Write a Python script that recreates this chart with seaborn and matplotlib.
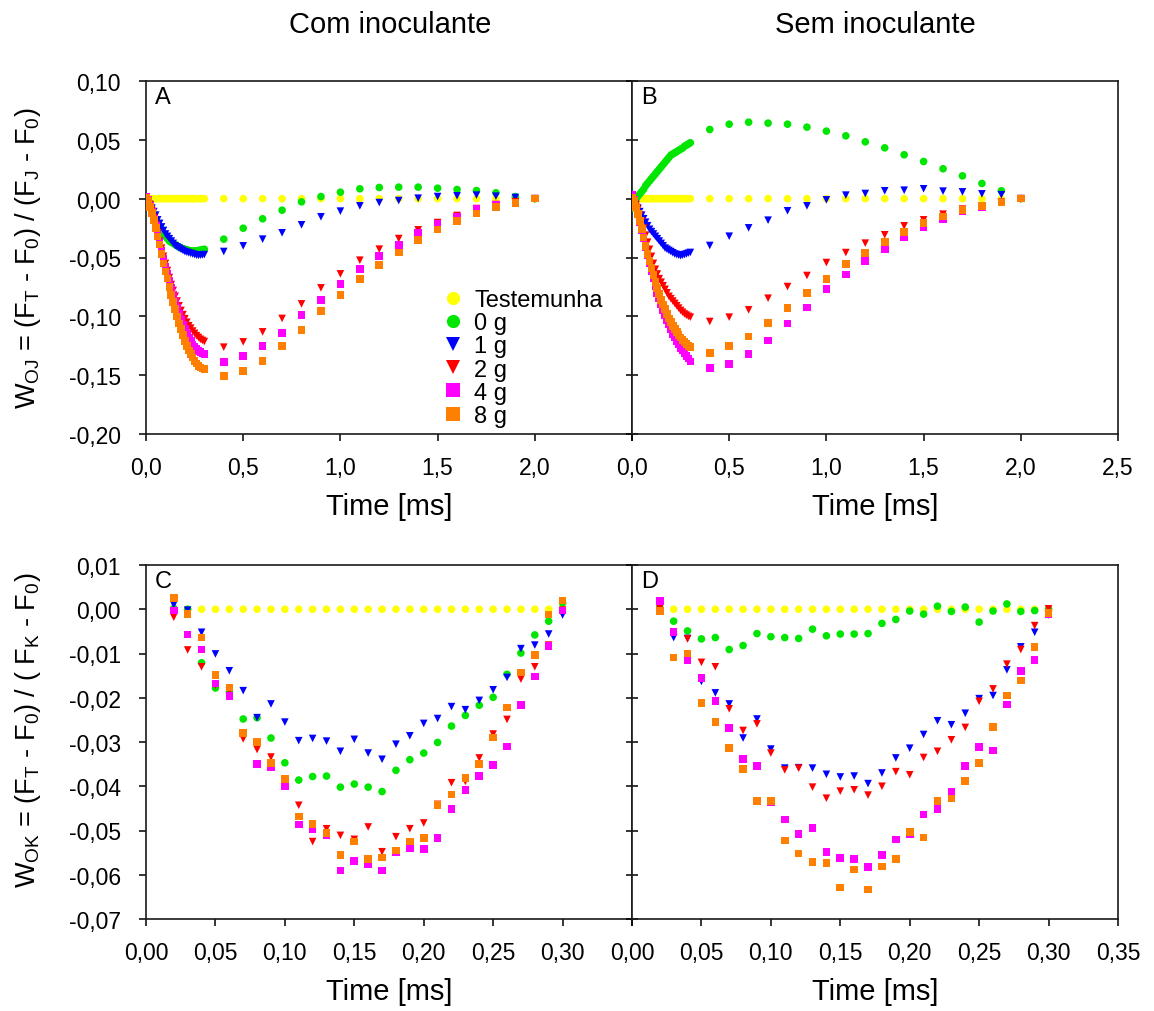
import matplotlib
matplotlib.use('Agg')
import matplotlib.pyplot as plt
from matplotlib.lines import Line2D
import pandas as pd
import seaborn as sns

treatments = ['Testemunha', '0 g', '1 g', '2 g', '4 g', '8 g']
colors = ['#ffff00', '#00e600', '#0000ff', '#ff0000', '#ff00ff', '#ff8000']
shapes = ['o', 'o', 'v', 'v', 's', 's']

# W_OJ time axis: dense part up to 0.3 ms, then every 0.1 ms up to 2 ms
time_oj = [0.00, 0.01, 0.02, 0.03, 0.04, 0.05, 0.06, 0.07, 0.08, 0.09, 0.10,
           0.11, 0.12, 0.13, 0.14, 0.15, 0.16, 0.17, 0.18, 0.19, 0.20,
           0.21, 0.22, 0.23, 0.24, 0.25, 0.26, 0.27, 0.28, 0.29, 0.30,
           0.4, 0.5, 0.6, 0.7, 0.8, 0.9, 1.0, 1.1, 1.2, 1.3, 1.4, 1.5,
           1.6, 1.7, 1.8, 1.9, 2.0]

# W_OK time axis
time_ok = [0.02, 0.03, 0.04, 0.05, 0.06, 0.07, 0.08, 0.09, 0.10,
           0.11, 0.12, 0.13, 0.14, 0.15, 0.16, 0.17, 0.18, 0.19, 0.20,
           0.21, 0.22, 0.23, 0.24, 0.25, 0.26, 0.27, 0.28, 0.29, 0.30]

# panel A - com inoculante, W_OJ
a_ctrl = [0.0] * len(time_oj)
a_0g = [-0.003, -0.001, -0.005, -0.009, -0.013, -0.017, -0.021, -0.024, -0.027, -0.030, -0.032,
        -0.034, -0.036, -0.037, -0.038, -0.039, -0.040, -0.041, -0.042, -0.0425, -0.043,
        -0.0435, -0.044, -0.0443, -0.0445, -0.0445, -0.0443, -0.044, -0.0437, -0.0433, -0.043,
        -0.0344, -0.0251, -0.0171, -0.0098, -0.0027, 0.0018, 0.0055, 0.0084, 0.0095, 0.0098,
        0.0098, 0.0089, 0.0078, 0.0069, 0.0050, 0.0018, 0.0]
a_1g = [0.000, -0.002, -0.005, -0.008, -0.011, -0.014, -0.018, -0.021, -0.024, -0.027, -0.030,
        -0.032, -0.034, -0.036, -0.038, -0.040, -0.041, -0.042, -0.043, -0.044, -0.045,
        -0.0455, -0.046, -0.0465, -0.047, -0.0475, -0.048, -0.0482, -0.048, -0.0478, -0.0475,
        -0.0449, -0.0401, -0.0344, -0.0290, -0.0222, -0.0154, -0.0106, -0.0061, -0.0033, -0.0016,
        0.0004, 0.0018, 0.0024, 0.0030, 0.0021, 0.0010, 0.0]
a_2g = [0.001, -0.001, -0.005, -0.010, -0.016, -0.022, -0.029, -0.036, -0.042, -0.049, -0.055,
        -0.061, -0.067, -0.073, -0.078, -0.083, -0.087, -0.091, -0.095, -0.0985, -0.102,
        -0.105, -0.108, -0.110, -0.1125, -0.1145, -0.1165, -0.118, -0.1195, -0.1205, -0.1214,
        -0.1262, -0.1217, -0.1132, -0.1018, -0.0894, -0.0758, -0.0639, -0.0523, -0.0429, -0.0339,
        -0.0265, -0.0203, -0.0143, -0.0084, -0.0050, -0.0027, 0.0]
a_4g = [0.002, -0.001, -0.006, -0.011, -0.017, -0.023, -0.030, -0.037, -0.044, -0.051, -0.058,
        -0.064, -0.070, -0.076, -0.082, -0.088, -0.093, -0.098, -0.103, -0.107, -0.111,
        -0.115, -0.118, -0.121, -0.124, -0.126, -0.128, -0.1295, -0.1305, -0.1315, -0.132,
        -0.1387, -0.1336, -0.1251, -0.1143, -0.0990, -0.0860, -0.0727, -0.0596, -0.0489, -0.0392,
        -0.0293, -0.0217, -0.0152, -0.0089, -0.0055, -0.0033, 0.0]
a_8g = [0.001, -0.002, -0.007, -0.012, -0.018, -0.025, -0.032, -0.039, -0.047, -0.055, -0.062,
        -0.068, -0.075, -0.082, -0.088, -0.094, -0.100, -0.106, -0.111, -0.116, -0.121,
        -0.125, -0.129, -0.132, -0.135, -0.138, -0.140, -0.142, -0.1435, -0.1445, -0.145,
        -0.1506, -0.1463, -0.1381, -0.1253, -0.1115, -0.0956, -0.0820, -0.0681, -0.0565, -0.0458,
        -0.0350, -0.0262, -0.0189, -0.0126, -0.0072, -0.0035, 0.0]

# panel B - sem inoculante, W_OJ
b_ctrl = [0.0] * len(time_oj)
b_0g = [-0.008, -0.002, 0.000, 0.002, 0.004, 0.006, 0.008, 0.011, 0.013, 0.015, 0.017,
        0.019, 0.021, 0.023, 0.025, 0.027, 0.029, 0.031, 0.033, 0.035, 0.037,
        0.038, 0.039, 0.040, 0.041, 0.042, 0.043, 0.0445, 0.0455, 0.0465, 0.0475,
        0.0588, 0.0633, 0.0650, 0.0642, 0.0633, 0.0608, 0.0574, 0.0534, 0.0483, 0.0432,
        0.0373, 0.0316, 0.0254, 0.0194, 0.0129, 0.0067, 0.0]
b_1g = [0.000, -0.002, -0.005, -0.008, -0.011, -0.014, -0.017, -0.020, -0.023, -0.026, -0.028,
        -0.030, -0.032, -0.034, -0.036, -0.038, -0.040, -0.042, -0.043, -0.044, -0.045,
        -0.046, -0.047, -0.0475, -0.048, -0.0485, -0.048, -0.0475, -0.047, -0.0463, -0.0457,
        -0.0398, -0.0319, -0.0248, -0.0183, -0.0103, -0.0061, -0.0010, 0.0030, 0.0044, 0.0067,
        0.0072, 0.0084, 0.0064, 0.0058, 0.0041, 0.0033, 0.0]
b_2g = [0.001, -0.001, -0.005, -0.009, -0.014, -0.019, -0.025, -0.031, -0.037, -0.043, -0.049,
        -0.055, -0.060, -0.064, -0.068, -0.071, -0.074, -0.077, -0.080, -0.083, -0.085,
        -0.087, -0.089, -0.091, -0.093, -0.095, -0.0965, -0.098, -0.099, -0.100, -0.1007,
        -0.1044, -0.1007, -0.0945, -0.0846, -0.0747, -0.0653, -0.0543, -0.0458, -0.0378, -0.0307,
        -0.0231, -0.0180, -0.0132, -0.0089, -0.0061, -0.0030, 0.0]
b_4g = [0.003, -0.001, -0.007, -0.013, -0.020, -0.027, -0.034, -0.041, -0.048, -0.055, -0.062,
        -0.068, -0.074, -0.080, -0.085, -0.090, -0.095, -0.099, -0.103, -0.107, -0.111,
        -0.115, -0.118, -0.121, -0.124, -0.127, -0.129, -0.131, -0.1335, -0.136, -0.1384,
        -0.1441, -0.1404, -0.1322, -0.1205, -0.1061, -0.0925, -0.0769, -0.0644, -0.0528, -0.0429,
        -0.0330, -0.0242, -0.0171, -0.0103, -0.0072, -0.0033, 0.0]
b_8g = [0.001, -0.002, -0.007, -0.013, -0.019, -0.026, -0.033, -0.040, -0.047, -0.053, -0.059,
        -0.065, -0.071, -0.076, -0.081, -0.086, -0.090, -0.094, -0.098, -0.102, -0.105,
        -0.108, -0.111, -0.1135, -0.116, -0.118, -0.120, -0.122, -0.1235, -0.125, -0.1262,
        -0.1313, -0.1254, -0.1172, -0.1058, -0.0931, -0.0803, -0.0684, -0.0557, -0.0461, -0.0368,
        -0.0285, -0.0206, -0.0152, -0.0095, -0.0064, -0.0033, 0.0]

# panel C - com inoculante, W_OK
c_ctrl = [0.0] * len(time_ok)
c_0g = [0.0002, 0.0000, -0.0121, -0.0178, -0.0187, -0.0248, -0.0245, -0.0291, -0.0347,
        -0.0386, -0.0378, -0.0377, -0.0402, -0.0395, -0.0402, -0.0412, -0.0364, -0.0340, -0.0325,
        -0.0301, -0.0264, -0.0240, -0.0217, -0.0199, -0.0147, -0.0099, -0.0058, -0.0027, 0.0014]
c_1g = [0.0010, -0.0002, -0.0052, -0.0101, -0.0139, -0.0184, -0.0245, -0.0214, -0.0255,
        -0.0297, -0.0292, -0.0298, -0.0321, -0.0294, -0.0325, -0.0339, -0.0305, -0.0286, -0.0258,
        -0.0247, -0.0220, -0.0227, -0.0206, -0.0182, -0.0154, -0.0089, -0.0081, -0.0056, -0.0013]
c_2g = [-0.0018, -0.0092, -0.0130, -0.0172, -0.0185, -0.0293, -0.0317, -0.0334, -0.0384,
        -0.0443, -0.0525, -0.0496, -0.0511, -0.0520, -0.0492, -0.0548, -0.0514, -0.0496, -0.0483,
        -0.0441, -0.0392, -0.0389, -0.0336, -0.0282, -0.0249, -0.0158, -0.0130, -0.0081, -0.0002]
c_4g = [-0.0003, -0.0057, -0.0091, -0.0168, -0.0196, -0.0280, -0.0350, -0.0356, -0.0401,
        -0.0486, -0.0498, -0.0511, -0.0590, -0.0569, -0.0577, -0.0590, -0.0548, -0.0539, -0.0542,
        -0.0517, -0.0451, -0.0408, -0.0377, -0.0352, -0.0310, -0.0217, -0.0152, -0.0083, -0.0003]
c_8g = [0.0025, -0.0011, -0.0064, -0.0148, -0.0177, -0.0280, -0.0300, -0.0348, -0.0384,
        -0.0468, -0.0485, -0.0505, -0.0555, -0.0525, -0.0564, -0.0561, -0.0545, -0.0525, -0.0517,
        -0.0442, -0.0419, -0.0382, -0.0350, -0.0290, -0.0222, -0.0143, -0.0104, -0.0012, 0.0020]

# panel D - sem inoculante, W_OK
d_ctrl = [0.0] * len(time_ok)
d_0g = [0.0004, -0.0027, -0.0049, -0.0067, -0.0064, -0.0091, -0.0082, -0.0055, -0.0062,
        -0.0064, -0.0066, -0.0045, -0.0060, -0.0056, -0.0056, -0.0055, -0.0032, -0.0023, -0.0004,
        -0.0011, 0.0007, -0.0005, 0.0005, -0.0029, -0.0004, 0.0012, -0.0005, -0.0003, 0.0000]
d_1g = [-0.0005, -0.0064, -0.0066, -0.0163, -0.0189, -0.0214, -0.0291, -0.0248, -0.0316,
        -0.0359, -0.0358, -0.0359, -0.0373, -0.0379, -0.0377, -0.0394, -0.0370, -0.0336, -0.0314,
        -0.0283, -0.0252, -0.0261, -0.0235, -0.0202, -0.0195, -0.0137, -0.0085, -0.0052, -0.0013]
d_2g = [0.0002, -0.0052, -0.0067, -0.0120, -0.0130, -0.0225, -0.0274, -0.0259, -0.0325,
        -0.0363, -0.0359, -0.0402, -0.0427, -0.0411, -0.0408, -0.0420, -0.0400, -0.0367, -0.0374,
        -0.0335, -0.0321, -0.0295, -0.0267, -0.0208, -0.0180, -0.0124, -0.0091, -0.0037, 0.0001]
d_4g = [0.0019, -0.0052, -0.0115, -0.0156, -0.0208, -0.0268, -0.0339, -0.0354, -0.0436,
        -0.0475, -0.0508, -0.0494, -0.0548, -0.0562, -0.0564, -0.0583, -0.0555, -0.0520, -0.0509,
        -0.0464, -0.0451, -0.0413, -0.0354, -0.0311, -0.0319, -0.0215, -0.0140, -0.0115, -0.0011]
d_8g = [-0.0004, -0.0109, -0.0100, -0.0212, -0.0255, -0.0314, -0.0361, -0.0433, -0.0433,
        -0.0523, -0.0552, -0.0571, -0.0574, -0.0629, -0.0588, -0.0633, -0.0581, -0.0564, -0.0503,
        -0.0516, -0.0433, -0.0428, -0.0388, -0.0348, -0.0266, -0.0195, -0.0161, -0.0085, -0.0009]

oj_ticks = [-0.20, -0.15, -0.10, -0.05, 0.00, 0.05, 0.10]
ok_ticks = [-0.07, -0.06, -0.05, -0.04, -0.03, -0.02, -0.01, 0.00, 0.01]
oj_xticks = [0.0, 0.5, 1.0, 1.5, 2.0, 2.5]
ok_xticks = [0.00, 0.05, 0.10, 0.15, 0.20, 0.25, 0.30, 0.35]


def long_table(times, series):
    rows = []
    for name, vals in zip(treatments, series):
        for t, v in zip(times, vals):
            rows.append({'t': t, 'w': v, 'trat': name})
    return pd.DataFrame(rows)


def comma(v, nd):
    return f'{round(v, nd) + 0.0:.{nd}f}'.replace('.', ',')


sns.set_theme(style='white')
plt.rcParams['font.family'] = ['Liberation Sans', 'DejaVu Sans']
plt.rcParams['mathtext.fontset'] = 'custom'
plt.rcParams['mathtext.rm'] = 'Liberation Sans'
plt.rcParams['mathtext.it'] = 'Liberation Sans'
plt.rcParams['mathtext.default'] = 'regular'
for key in ['text.color', 'axes.labelcolor', 'xtick.color', 'ytick.color']:
    plt.rcParams[key] = 'black'

W, H = 1154, 1012
fig = plt.figure(figsize=(W / 100, H / 100), dpi=100)
axA = fig.add_axes([146 / W, (H - 435) / H, 486 / W, 353 / H])
axB = fig.add_axes([632 / W, (H - 435) / H, 486 / W, 353 / H])
axC = fig.add_axes([146 / W, (H - 920) / H, 486 / W, 354 / H])
axD = fig.add_axes([632 / W, (H - 920) / H, 486 / W, 354 / H])

palette = dict(zip(treatments, colors))
mk = dict(zip(treatments, shapes))

panels = [
    (axA, 'A', time_oj, [a_ctrl, a_0g, a_1g, a_2g, a_4g, a_8g]),
    (axB, 'B', time_oj, [b_ctrl, b_0g, b_1g, b_2g, b_4g, b_8g]),
    (axC, 'C', time_ok, [c_ctrl, c_0g, c_1g, c_2g, c_4g, c_8g]),
    (axD, 'D', time_ok, [d_ctrl, d_0g, d_1g, d_2g, d_4g, d_8g]),
]

for ax, letter, times, series in panels:
    df = long_table(times, series)
    sns.scatterplot(data=df, x='t', y='w', hue='trat', style='trat',
                    palette=palette, markers=mk, s=30, linewidth=0,
                    legend=False, ax=ax, zorder=3)
    ax.set_xlabel('Time [ms]', fontsize=21, labelpad=9)
    ax.set_ylabel('')
    for sp in ax.spines.values():
        sp.set_visible(True)
        sp.set_color('#1a1a1a')
        sp.set_linewidth(1.2)
    ax.text(0.018, 0.985, letter, transform=ax.transAxes, ha='left', va='top', fontsize=17)

    if letter in 'AB':
        ax.set_xlim(0, 2.5)
        ax.set_ylim(-0.20, 0.10)
        ax.set_yticks(oj_ticks)
        ax.set_xticks(oj_xticks)
        xl = [comma(v, 1) for v in oj_xticks]
        yl = [comma(v, 2) for v in oj_ticks]
    else:
        ax.set_xlim(0, 0.35)
        ax.set_ylim(-0.07, 0.01)
        ax.set_yticks(ok_ticks)
        ax.set_xticks(ok_xticks)
        xl = [comma(v, 2) for v in ok_xticks]
        yl = [comma(v, 2) for v in ok_ticks]
    if letter in 'AC':
        xl[-1] = ''
        ax.set_yticklabels(yl)
        ax.tick_params(axis='y', direction='out', length=5, width=1.1, pad=13,
                       labelsize=16.5, left=True)
    else:
        ax.tick_params(axis='y', direction='inout', length=9, width=1.1,
                       left=True, labelleft=False)
    ax.set_xticklabels(xl)
    ax.tick_params(axis='x', direction='out', length=5, width=1.1, pad=11,
                   labelsize=16.5, bottom=True)

handles = [Line2D([], [], linestyle='none', marker=m, color=c, markersize=9.5,
                  markeredgewidth=0) for m, c in zip(shapes, colors)]
axA.legend(handles, treatments, loc='lower left', bbox_to_anchor=(0.607, 0.02),
           frameon=False, fontsize=17, borderpad=0, handlelength=1.0,
           handletextpad=0.4, labelspacing=0.05, borderaxespad=0)

fig.text(390 / W, 1 - 25 / H, 'Com inoculante', ha='center', va='center', fontsize=21)
fig.text(875 / W, 1 - 25 / H, 'Sem inoculante', ha='center', va='center', fontsize=21)
fig.text(28 / W, 1 - 258 / H,
         r'W$_{OJ}$ = (F$_{T}$ - F$_{0}$) / (F$_{J}$ - F$_{0}$)',
         rotation=90, ha='center', va='center', fontsize=19.5)
fig.text(28 / W, 1 - 730 / H,
         r'W$_{OK}$ = (F$_{T}$ - F$_{0}$) / ( F$_{K}$ - F$_{0}$)',
         rotation=90, ha='center', va='center', fontsize=19.5)

fig.savefig('out.png', dpi=100)
